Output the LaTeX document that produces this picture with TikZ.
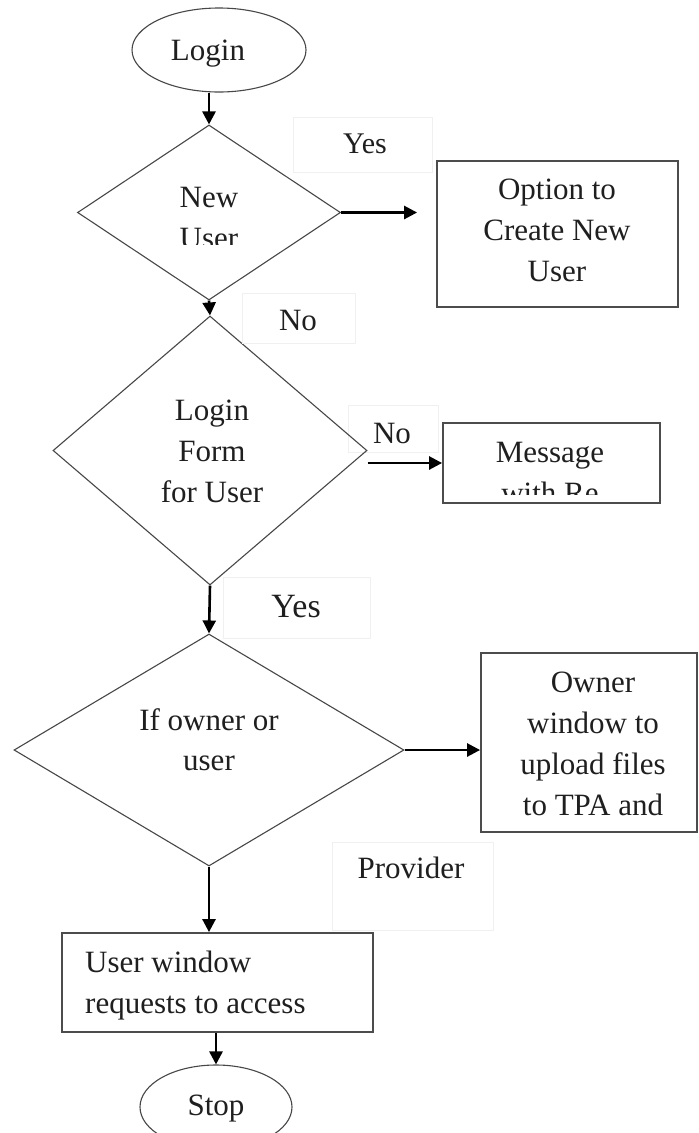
\documentclass[tikz,border=0pt]{standalone}
\usepackage{fontspec}
\setmainfont{Liberation Serif}
\usetikzlibrary{shapes.geometric,arrows.meta,calc}
\newcommand\Ta{\rule{0pt}{22pt}}
\newcommand\Tb{\rule[-7pt]{0pt}{7pt}}
\begin{document}
\begin{tikzpicture}[x=1pt,y=-1pt,
  font=\fontsize{31}{41}\selectfont,
  shp/.style={draw=black!72, line width=1.1pt, inner sep=0pt},
  dia/.style={shp, diamond},
  oval/.style={shp, ellipse},
  boxx/.style={draw=black!70, line width=1.8pt, inner sep=0pt, rectangle},
  txt/.style={inner sep=0pt, align=center, text=black!88},
  lbox/.style={draw=black!6, line width=1pt, fill=white},
  arr/.style={line width=2.6pt, -{Triangle[length=13pt,width=13pt]}}
]
\clip (0,0) rectangle (699,1133);
\fill[white] (0,0) rectangle (699,1133);

% label box behind the Login Form diamond
\draw[lbox, fill=none] (348,405) rectangle (438,452);

% shapes
\node[oval, minimum width=174pt, minimum height=84pt] (login) at (219,50) {};
\node[dia, minimum width=263pt, minimum height=175pt] (nu) at (209,212.5) {};
\node[boxx, minimum width=241pt, minimum height=146pt] (opt) at (557.5,234) {};
\node[dia, minimum width=314pt, minimum height=269pt] (lf) at (210,450.5) {};
\node[boxx, minimum width=217pt, minimum height=80pt] (msg) at (551.5,463) {};
\node[dia, minimum width=390pt, minimum height=232pt] (io) at (209,750) {};
\node[boxx, minimum width=216pt, minimum height=179pt] (own) at (589,742.5) {};
\node[boxx, minimum width=311pt, minimum height=99pt] (usr) at (217.5,982.5) {};
\node[oval, minimum width=152pt, minimum height=84pt] (stop) at (216,1107) {};

% faint label boxes
\draw[lbox] (293,117) rectangle (432,172);
\draw[lbox] (242,293) rectangle (355,343);
\draw[lbox] (223,577) rectangle (370,638);
\draw[lbox] (332,842) rectangle (493,930);

% texts
\node[txt] (tlogin) at (208,52.5) {\Ta Login\Tb};
\node[txt, font=\fontsize{30}{36}\selectfont] (tyes1) at (365,145.5) {\Ta Yes\Tb};
\begin{scope}
  \clip (100,150) rectangle (320,244);
  \node[txt] (tnu) at (209,220) {\Ta New\\User\Tb};
\end{scope}
\node[txt] (topt) at (557,232.5) {\Ta Option to\\Create New\\User\Tb};
\node[txt] (tno1) at (298,322.5) {\Ta No\Tb};
\node[txt] (tlf) at (212,454) {\Ta Login\\Form\\for User\Tb};
\node[txt] (tno2) at (392,435.5) {\Ta No\Tb};
\begin{scope}
  \clip (445,425) rectangle (658,494);
  \node[txt] (tmsg) at (550,475) {\Ta Message\\with Re\Tb};
\end{scope}
\node[txt, font=\fontsize{34}{40}\selectfont] (tyes2) at (296,609.5) {\Ta Yes\Tb};
\node[txt, font=\fontsize{31}{40}\selectfont] (tio) at (209,742.5) {\Ta If owner or\\user\Tb};
\node[txt] (town) at (593,746) {\Ta Owner\\window to\\upload files\\to TPA and\Tb};
\node[txt] (tprov) at (411,870.5) {\Ta Provider\Tb};
\node[txt, align=left, anchor=west] (tusr) at (85,985) {\Ta User window\\requests to access\Tb};
\node[txt] (tstop) at (216,1107.5) {\Ta Stop\Tb};

% connectors
\draw[arr] (login.south -| nu.north) -- (nu.north);
\draw[arr, shorten >=19pt] (nu.east) -- (nu.east -| opt.west);
\draw[arr] (nu.south) -- (lf.north);
\draw[arr] (lf.east |- msg.west) -- (msg.west);
\draw[arr] (lf.south) -- (io.north);
\draw[arr] (io.east) -- (io.east -| own.west);
\draw[arr] (io.south) -- (io.south |- usr.north);
\draw[arr] (usr.south -| stop.north) -- (stop.north);
\end{tikzpicture}
\end{document}
